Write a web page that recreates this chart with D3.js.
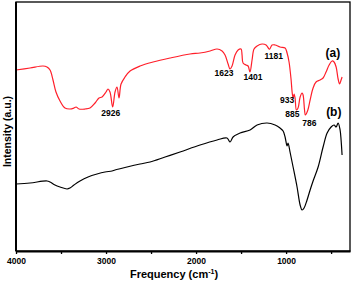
<!DOCTYPE html>
<html lang="en">
<head>
<meta charset="UTF-8" />
<title>FTIR spectra</title>
<script src="https://cdn.jsdelivr.net/npm/d3@7"></script>
<style>
  body { margin: 0; background: #fff; }
  text { font-family: "Liberation Sans", Arial, sans-serif; font-weight: bold; }
</style>
</head>
<body>
<div id="chart"></div>
<script>
// wavenumbers (cm-1) and intensities (a.u.)
const waveA = [4000, 3844, 3700, 3656, 3622, 3589, 3556, 3511, 3456, 3400, 3356, 3333, 3300, 3233, 3178, 3122, 3078, 3044, 3000, 2978, 2956, 2926, 2900, 2878, 2856, 2833, 2789, 2733, 2622, 2478, 2289, 2067, 1956, 1844, 1767, 1711, 1678, 1644, 1623, 1600, 1567, 1533, 1500, 1489, 1478, 1444, 1422, 1401, 1378, 1356, 1322, 1267, 1222, 1189, 1181, 1156, 1122, 1067, 1011, 989, 967, 944, 933, 922, 911, 900, 885, 867, 844, 822, 811, 795, 786, 758, 733, 700, 667, 622, 589, 556, 522, 489, 467, 444, 422, 406, 389, 378];
const intA = [181, 183, 185, 184, 181, 171, 159, 150, 143, 142, 143, 144, 142, 142, 143, 148, 153, 154, 159, 162, 159, 144, 159, 164, 153, 167, 174, 180, 185, 189, 193, 197, 198, 200, 202, 200, 196, 187, 182, 185, 196, 201, 202, 196, 188, 186, 185, 179, 191, 202, 205, 207, 206, 202, 202, 206, 206, 204, 203, 198, 189, 171, 159, 153, 157, 153, 141, 143, 154, 158, 156, 141, 136, 141, 151, 163, 169, 171, 173, 179, 186, 190, 189, 184, 172, 167, 171, 174];

const waveB = [4000, 3844, 3656, 3622, 3567, 3511, 3433, 3400, 3356, 3289, 3200, 3100, 3011, 2933, 2900, 2767, 2622, 2511, 2344, 2178, 1956, 1767, 1656, 1622, 1589, 1511, 1400, 1322, 1211, 1122, 1067, 1033, 1011, 989, 978, 956, 922, 878, 844, 822, 800, 767, 733, 700, 644, 589, 544, 500, 467, 444, 422, 400, 389, 378];
const intB = [67, 68, 70, 69, 66, 64, 62, 63, 66, 70, 74, 77, 79, 80, 81, 84, 87, 89, 94, 99, 106, 111, 113, 109, 114, 118, 121, 126, 128, 126, 123, 120, 114, 105, 108, 99, 84, 64, 46, 41, 43, 51, 61, 70, 84, 104, 118, 124, 126, 124, 128, 121, 111, 96];

const xTicks = [4000, 3000, 2000, 1000];
const xMinor = [3500, 2500, 1500, 500];

const peaks = ["2926", "1623", "1401", "1181", "933", "885", "786"];
const peakPos = [[2926, 135], [1623, 175], [1401, 171], [1181, 192], [933, 148], [885, 134], [786, 125]];
const peakShift = [-2, -6, 3, 4, -5, -4, 4];

const width = 353, height = 283;
const m = { left: 16, right: 3, top: 2, bottom: 32 };

const svg = d3.select("#chart").append("svg")
  .attr("width", width).attr("height", height);

const x = d3.scaleLinear().domain([4000, 290]).range([m.left, width - m.right]);
const y = d3.scaleLinear().domain([0, 249]).range([height - m.bottom, m.top]);

const line = d3.line()
  .x(d => x(d[0]))
  .y(d => y(d[1]))
  .curve(d3.curveCatmullRom.alpha(0.5));

svg.append("path")
  .datum(d3.zip(waveA, intA))
  .attr("d", line)
  .attr("fill", "none")
  .attr("stroke", "#ff1f2a")
  .attr("stroke-width", 1.2);

svg.append("path")
  .datum(d3.zip(waveB, intB))
  .attr("d", line)
  .attr("fill", "none")
  .attr("stroke", "#000")
  .attr("stroke-width", 1.2);

// frame
svg.append("rect")
  .attr("x", m.left).attr("y", m.top)
  .attr("width", width - m.left - m.right)
  .attr("height", height - m.top - m.bottom)
  .attr("fill", "none").attr("stroke", "#000").attr("stroke-width", 1.3);

// bottom axis
const xAxis = svg.append("g")
  .attr("transform", `translate(0,${height - m.bottom})`)
  .call(d3.axisBottom(x).tickValues(xTicks).tickSize(3).tickSizeOuter(0).tickPadding(4).tickFormat(d3.format("d")));
xAxis.select(".domain").attr("stroke-width", 2);
xAxis.selectAll(".tick line").attr("stroke-width", 1.3);
xAxis.selectAll("text").attr("font-size", 8.5).attr("font-family", "Liberation Sans, Arial").attr("font-weight", "bold");

svg.append("g")
  .attr("transform", `translate(0,${height - m.bottom})`)
  .call(d3.axisBottom(x).tickValues(xMinor).tickSize(3).tickFormat(""))
  .call(g => g.select(".domain").remove())
  .selectAll(".tick line").attr("stroke-width", 1.3);

// left axis line thicker
svg.append("line")
  .attr("x1", m.left).attr("x2", m.left)
  .attr("y1", m.top).attr("y2", height - m.bottom)
  .attr("stroke", "#000").attr("stroke-width", 2);

// axis titles
const xt = svg.append("text")
  .attr("x", 174).attr("y", 278)
  .attr("text-anchor", "middle")
  .attr("font-size", 11);
xt.append("tspan").text("Frequency (cm");
xt.append("tspan").attr("font-size", 7).attr("dy", -4).text("-1");
xt.append("tspan").attr("dy", 4).text(")");

svg.append("text")
  .attr("transform", `translate(11,${(m.top + height - m.bottom) / 2 + 5}) rotate(-90)`)
  .attr("text-anchor", "middle")
  .attr("font-size", 10.5)
  .text("Intensity (a.u.)");

// peak labels
svg.selectAll(".peak")
  .data(peaks)
  .enter().append("text")
  .attr("class", "peak")
  .attr("x", (d, i) => x(peakPos[i][0]) + peakShift[i])
  .attr("y", (d, i) => y(peakPos[i][1]))
  .attr("text-anchor", "middle")
  .attr("font-size", 8.5)
  .text(d => d);

svg.append("text").attr("x", x(480)).attr("y", y(194)).attr("text-anchor", "middle").attr("font-size", 12).text("(a)");
svg.append("text").attr("x", x(470)).attr("y", y(135)).attr("text-anchor", "middle").attr("font-size", 12).text("(b)");
</script>
</body>
</html>
